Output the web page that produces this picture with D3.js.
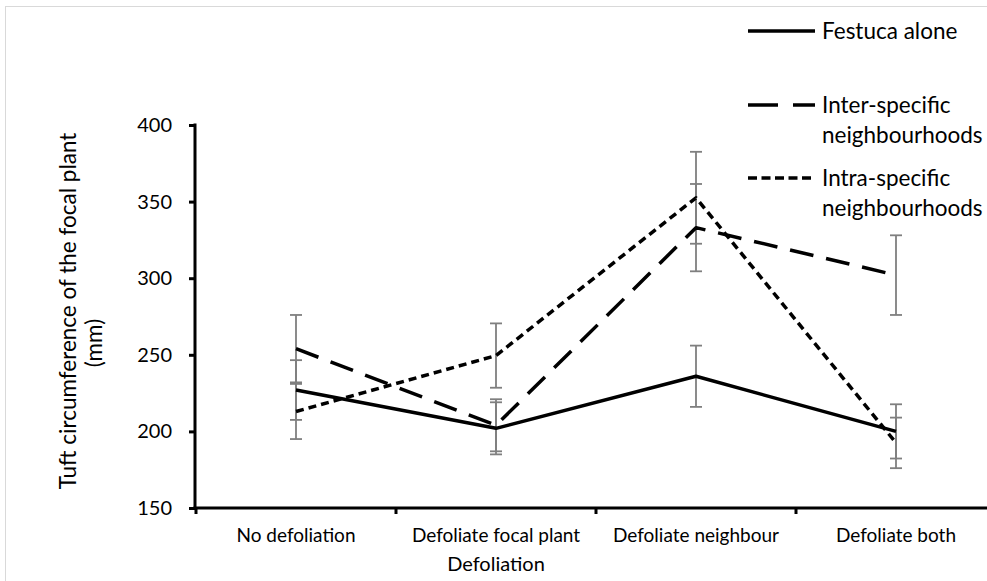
<!DOCTYPE html>
<html><head><meta charset="utf-8">
<script src="https://cdn.jsdelivr.net/npm/d3@7"></script>
<style>body{margin:0;background:#fff}svg{display:block}text{font-family:Lato,"Open Sans",sans-serif;fill:#000}</style>
</head><body><svg id="c" width="987" height="581"></svg>
<script>
const categories = ["No defoliation","Defoliate focal plant","Defoliate neighbour","Defoliate both"];
const festucaAlone = [227, 202, 236, 200];
const festucaErr = [19.5, 17, 20, 17.7];
const interSpecific = [254, 204, 333, 302];
const interErr = [22, 17, 28.5, 26];
const intraSpecific = [213, 249.5, 352.5, 192.5];
const intraErr = [18, 21, 30, 16.5];
const yTicks = [150, 200, 250, 300, 350, 400];
const seriesNames = ["Festuca alone", "Inter-specific neighbourhoods", "Intra-specific neighbourhoods"];

const svg = d3.select("#c");
svg.append("rect").attr("x",5.5).attr("y",6.5).attr("width",1100).attr("height",700)
  .attr("fill","none").attr("stroke","#d9d9d9").attr("stroke-width",1);

const x = d3.scaleBand().domain(categories).range([196, 996]).padding(0);
const y = d3.scaleLinear().domain([150, 400]).range([508, 125]);

const series = [
  {name: seriesNames[0], vals: festucaAlone, err: festucaErr, dash: null},
  {name: seriesNames[1], vals: interSpecific, err: interErr, dash: "24,13"},
  {name: seriesNames[2], vals: intraSpecific, err: intraErr, dash: "8,5"}
];

// error bars
const eg = svg.append("g");
series.forEach(s => {
  s.vals.forEach((v,i) => {
    const cx = x(categories[i]) + x.bandwidth()/2;
    const g = eg.append("g").attr("stroke","#7f7f7f").attr("stroke-width",1.8);
    g.append("line").attr("x1",cx).attr("x2",cx).attr("y1",y(v - s.err[i])).attr("y2",y(v + s.err[i]));
    [v - s.err[i], v + s.err[i]].forEach(e => {
      g.append("line").attr("x1",cx-6).attr("x2",cx+6).attr("y1",y(e)).attr("y2",y(e));
    });
  });
});

// lines
const line = d3.line().x((d,i)=>x(categories[i]) + x.bandwidth()/2).y(d=>y(d));
series.forEach(s => {
  svg.append("path").datum(s.vals).attr("d", line).attr("fill","none")
    .attr("stroke","#000").attr("stroke-width",3.5)
    .attr("stroke-dasharray", s.dash).attr("stroke-linejoin","round");
});

// axes
const yAxis = d3.axisLeft(y).tickValues(yTicks).tickSize(6).tickPadding(17).tickSizeOuter(0);
const ya = svg.append("g").attr("transform","translate(195,0)").call(yAxis);
ya.select(".domain").attr("stroke","#000").attr("stroke-width",3).attr("d","M0,123.5V509.5");
ya.selectAll(".tick line").attr("stroke","#000").attr("stroke-width",3);
ya.selectAll(".tick text").attr("font-size",20).attr("font-family","Lato,sans-serif");

const xa = svg.append("g").attr("transform","translate(0,508)");
xa.append("line").attr("x1",193.5).attr("x2",996).attr("y1",0).attr("y2",0).attr("stroke","#000").attr("stroke-width",3);
const bounds = categories.map(c => x(c)).concat([x.range()[1]]);
bounds.forEach(b => xa.append("line").attr("x1",b).attr("x2",b).attr("y1",0).attr("y2",6).attr("stroke","#000").attr("stroke-width",3));
categories.forEach(c => {
  xa.append("text").attr("x", x(c)+x.bandwidth()/2).attr("y",34)
    .attr("text-anchor","middle").attr("font-size",19).text(c);
});

svg.append("text").attr("x",496).attr("y",571).attr("text-anchor","middle").attr("font-size",20).text("Defoliation");

const yl = svg.append("text").attr("transform","rotate(-90)").attr("text-anchor","middle").attr("font-size",22.5);
yl.append("tspan").attr("x",-311).attr("y",76).text("Tuft circumference of the focal plant");
yl.append("tspan").attr("x",-343).attr("y",102).text("(mm)");

// legend
const leg = [
  {label:["Festuca alone"], y:31, dash:null},
  {label:["Inter-specific","neighbourhoods"], y:105, dash:"30,15"},
  {label:["Intra-specific","neighbourhoods"], y:178, dash:"9,4.5"}
];
leg.forEach(l => {
  svg.append("line").attr("x1",748).attr("x2",815).attr("y1",l.y).attr("y2",l.y)
    .attr("stroke","#000").attr("stroke-width",3.5).attr("stroke-dasharray",l.dash);
  l.label.forEach((t,j) => {
    svg.append("text").attr("x",822).attr("y",l.y + 8 + j*30).attr("font-size",22.5).text(t);
  });
});
</script></body></html>
